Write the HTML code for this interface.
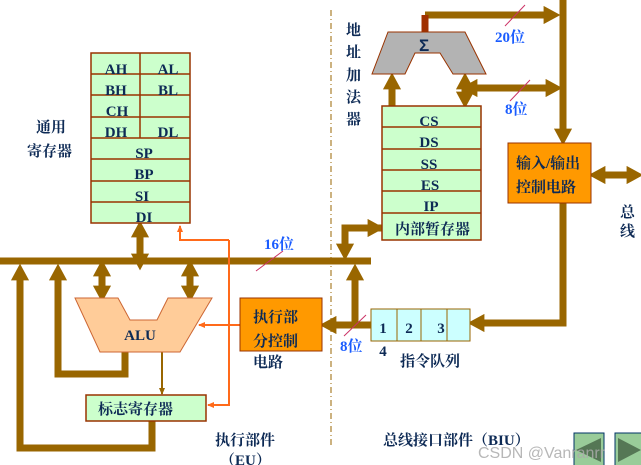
<!DOCTYPE html>
<html><head><meta charset="utf-8"><style>
body{margin:0;background:#fff;}
svg{display:block;font-family:"Liberation Serif","Noto Serif CJK SC",serif;}
.r{font-weight:bold;fill:#0d2a55;font-size:15px;text-anchor:middle;}
.c{fill:#0d2a55;font-size:15px;font-weight:bold;font-family:"Liberation Serif","Noto Serif CJK SC",serif;}
.b{fill:#1a5cff;font-weight:bold;font-size:15px;}
</style></head><body>
<svg width="641" height="465" viewBox="0 0 641 465" xmlns="http://www.w3.org/2000/svg">
<defs>
<marker id="ah" markerWidth="2.4" markerHeight="2.6" refX="1.2" refY="1.3" orient="auto" markerUnits="strokeWidth"><path d="M0,0 L2.4,1.3 L0,2.6z" fill="#996600"/></marker>
<marker id="as" markerWidth="2.4" markerHeight="2.6" refX="1.2" refY="1.3" orient="auto-start-reverse" markerUnits="strokeWidth"><path d="M0,0 L2.4,1.3 L0,2.6z" fill="#996600"/></marker>
<marker id="ao" markerWidth="8" markerHeight="8" refX="6" refY="4" orient="auto" markerUnits="userSpaceOnUse"><path d="M0,1 L7,4 L0,7z" fill="#ff6a1a"/></marker>
<marker id="at" markerWidth="8" markerHeight="8" refX="6" refY="4" orient="auto" markerUnits="userSpaceOnUse"><path d="M0,1 L7,4 L0,7z" fill="#996600"/></marker>
</defs>
<g stroke="#996600" stroke-width="7" fill="none">
<line x1="0" y1="261" x2="371" y2="261"/>
<line x1="140" y1="262" x2="140" y2="229" marker-start="url(#as)" marker-end="url(#ah)"/>
<line x1="102" y1="268" x2="102" y2="294" marker-start="url(#as)" marker-end="url(#ah)"/>
<line x1="190" y1="268" x2="190" y2="294" marker-start="url(#as)" marker-end="url(#ah)"/>
<polyline points="152,421 152,448 20,448 20,272" marker-end="url(#ah)"/>
<polyline points="125,352 125,374 58,374 58,272" marker-end="url(#ah)"/>
<polyline points="382,228 345,228 345,252" marker-end="url(#ah)"/>
<line x1="346" y1="228" x2="376" y2="228" marker-end="url(#ah)"/>
<polyline points="371,325 355,325 355,272" marker-end="url(#ah)"/>
<line x1="371" y1="325" x2="328" y2="325" marker-end="url(#ah)"/>
<polyline points="563,203 563,323 476,323" marker-end="url(#ah)"/>
<line x1="563" y1="0" x2="563" y2="137" marker-end="url(#ah)"/>
<line x1="392" y1="106" x2="392" y2="81" marker-end="url(#ah)"/>
<line x1="465" y1="100" x2="465" y2="81" marker-start="url(#as)" marker-end="url(#ah)"/>
<line x1="469" y1="88" x2="554" y2="88" marker-start="url(#as)" marker-end="url(#ah)"/>
<line x1="425" y1="15" x2="552" y2="15" marker-end="url(#ah)"/>
<line x1="597" y1="175" x2="635" y2="175" marker-start="url(#as)" marker-end="url(#ah)"/>
</g>
<line x1="425" y1="15" x2="425" y2="32" stroke="#a03000" stroke-width="7"/>
<line x1="162" y1="352" x2="162" y2="394" stroke="#996600" stroke-width="2" marker-end="url(#at)"/>
<g stroke="#ff6a1a" stroke-width="2" fill="none">
<line x1="240" y1="325" x2="199" y2="325" marker-end="url(#ao)"/>
<polyline points="229,240 229,405 208,405" marker-end="url(#ao)"/>
<polyline points="229,240 180,240 180,226" marker-end="url(#ao)"/>
</g>
<line x1="331" y1="10" x2="331" y2="445" stroke="#996600" stroke-width="1" stroke-dasharray="6,3,1,3"/>
<g stroke="#993300" stroke-width="1.5" fill="#ccffcc">
<rect x="91" y="53" width="99" height="170"/>
<line x1="91" y1="74" x2="190" y2="74"/><line x1="91" y1="95" x2="190" y2="95"/>
<line x1="91" y1="117" x2="190" y2="117"/><line x1="91" y1="138" x2="190" y2="138"/>
<line x1="91" y1="159" x2="190" y2="159"/><line x1="91" y1="181" x2="190" y2="181"/>
<line x1="91" y1="202" x2="190" y2="202"/><line x1="140" y1="53" x2="140" y2="138"/>
</g>
<text class="r" x="116" y="74">AH</text><text class="r" x="168" y="74">AL</text>
<text class="r" x="116" y="95">BH</text><text class="r" x="168" y="95">BL</text>
<text class="r" x="117" y="116">CH</text>
<text class="r" x="116" y="137">DH</text><text class="r" x="168" y="137">DL</text>
<text class="r" x="144" y="158">SP</text><text class="r" x="144" y="179">BP</text>
<text class="r" x="142" y="201">SI</text><text class="r" x="144" y="222">DI</text>
<text class="c" x="36" y="132">通用</text><text class="c" x="27" y="156">寄存器</text>
<g stroke="#993300" stroke-width="1.5" fill="#ccffcc">
<rect x="382" y="106" width="99" height="134"/>
<line x1="382" y1="127" x2="481" y2="127"/><line x1="382" y1="149" x2="481" y2="149"/>
<line x1="382" y1="170" x2="481" y2="170"/><line x1="382" y1="191" x2="481" y2="191"/>
<line x1="382" y1="213" x2="481" y2="213"/>
</g>
<text class="r" x="429" y="126">CS</text><text class="r" x="429" y="147">DS</text>
<text class="r" x="429" y="169">SS</text><text class="r" x="430" y="190">ES</text>
<text class="r" x="431" y="211">IP</text>
<text class="c" x="395" y="234">内部暂存器</text>
<text class="c" x="346" y="35">地</text><text class="c" x="346" y="57">址</text>
<text class="c" x="346" y="80">加</text><text class="c" x="346" y="102">法</text><text class="c" x="346" y="124">器</text>
<polygon points="388,32 465,32 486,74 453,74 440,53 415,53 405,74 372,74" fill="#b3b3b3" stroke="#993300" stroke-width="1"/>
<text x="419" y="51" font-weight="bold" font-size="17" fill="#0d2a55" font-family="Liberation Sans,sans-serif">Σ</text>
<rect x="508" y="143" width="83" height="60" fill="#ff9900" stroke="#993300" stroke-width="1"/>
<text class="c" x="516" y="168" font-size="16">输入/输出</text>
<text class="c" x="516" y="192" font-size="16">控制电路</text>
<text class="c" x="620" y="217">总</text><text class="c" x="620" y="236">线</text>
<line x1="505" y1="26" x2="525" y2="5" stroke="#cc3366" stroke-width="1"/>
<text class="b" x="495" y="42">20位</text>
<line x1="510" y1="101" x2="530" y2="80" stroke="#cc3366" stroke-width="1"/>
<text class="b" x="505" y="114">8位</text>
<line x1="256" y1="271" x2="283" y2="251" stroke="#cc3366" stroke-width="1"/>
<text class="b" x="264" y="249">16位</text>
<line x1="344" y1="336" x2="366" y2="315" stroke="#cc3366" stroke-width="1"/>
<text class="b" x="340" y="351">8位</text>
<polygon points="75,298 118,298 130,320 157,320 168,298 212,298 180,352 100,352" fill="#ffcc99" stroke="#cc6633" stroke-width="1"/>
<text class="r" x="140" y="340">ALU</text>
<rect x="86" y="395" width="120" height="26" fill="#ccffcc" stroke="#993300" stroke-width="1.5"/>
<text class="c" x="98" y="414">标志寄存器</text>
<rect x="240" y="298" width="82" height="53" fill="#ff9900" stroke="#993300" stroke-width="1"/>
<text class="c" x="253" y="322" font-size="16">执行部</text>
<text class="c" x="253" y="346" font-size="16">分控制</text>
<text class="c" x="253" y="367" font-size="16">电路</text>
<g stroke="#996600" stroke-width="1" fill="#ccffff">
<rect x="371" y="309" width="99" height="32"/>
<line x1="397" y1="309" x2="397" y2="341"/><line x1="421" y1="309" x2="421" y2="341"/><line x1="447" y1="309" x2="447" y2="341"/>
</g>
<text class="r" x="383" y="333">1</text><text class="r" x="409" y="333">2</text><text class="r" x="441" y="333">3</text>
<text class="r" x="383" y="356">4</text>
<text class="c" x="400" y="366" font-size="16">指令队列</text>
<text class="c" x="215" y="445" font-size="16">执行部件</text>
<text class="c" x="220" y="465" font-size="15">（EU）</text>
<text class="c" x="383" y="445" font-size="16">总线接口部件（BIU）</text>
<rect x="574" y="433" width="30" height="34" fill="#99cc99" stroke="#003366" stroke-width="1"/>
<polygon points="576,450 601,438 601,462" fill="#557755"/>
<rect x="615" y="433" width="30" height="34" fill="#99cc99" stroke="#003366" stroke-width="1"/>
<polygon points="618,438 641,450 618,462" fill="#557755"/>
<text x="478" y="458" font-size="16" fill="#aaaaaa" fill-opacity="0.85" font-family="Liberation Sans,sans-serif">CSDN @Vanranrr</text>
</svg>
</body></html>
